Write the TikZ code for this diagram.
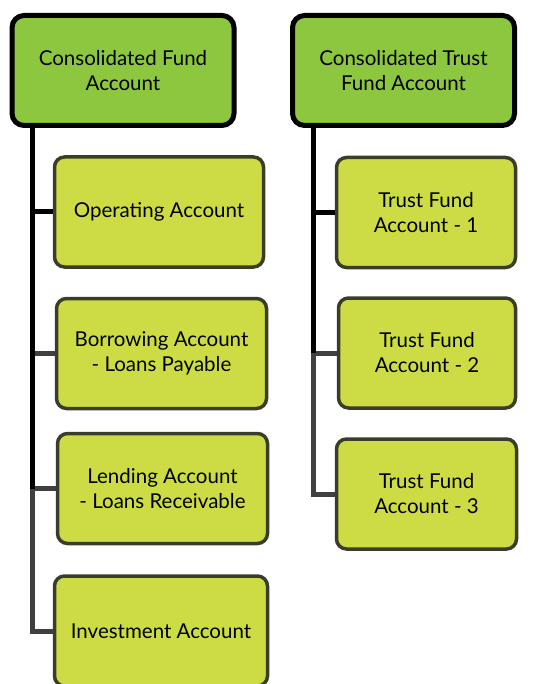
\documentclass[tikz,border=0pt]{standalone}
\usepackage{fontspec}
\setmainfont{Lato}
\usetikzlibrary{positioning,calc}
\definecolor{fundgreen}{RGB}{141,198,63}
\definecolor{acctgreen}{RGB}{205,220,68}
\definecolor{acctedge}{RGB}{58,62,40}
\definecolor{linkgray}{RGB}{64,64,64}

\begin{document}
\begin{tikzpicture}[x=1pt,y=-1pt,
  fund/.style={draw=black,line width=5pt,fill=fundgreen,rounded corners=12pt,
    minimum width=222pt,minimum height=110pt,align=center,inner sep=0pt,
    font=\fontsize{20.5}{25}\selectfont},
  acct/.style={draw=acctedge,line width=3.5pt,fill=acctgreen,rounded corners=10pt,
    minimum height=110pt,align=center,inner sep=0pt,
    font=\fontsize{20.5}{25}\selectfont},
  bline/.style={draw=black,line width=5pt},
  gline/.style={draw=linkgray,line width=5pt}]
\useasboundingbox (0,0) rectangle (537,684);

\node[fund] (cfa) at (123,70.5) {Consolidated Fund\\Account};
\node[fund] (ctfa) at (403.5,70.5) {Consolidated Trust\\Fund Account};

\node[acct,minimum width=209pt] (oper) at (159,212) {Operating Account};
\node[acct,minimum width=210pt] (borr) at (161.5,353.5) {Borrowing Account\\- Loans Payable};
\node[acct,minimum width=210pt] (lend) at (162.5,488.5) {Lending Account\\- Loans Receivable};
\node[acct,minimum width=213pt] (inv) at (161,631) {Investment Account};

\node[acct,minimum width=179pt] (tf1) at (426,212.5) {Trust Fund\\Account - 1};
\node[acct,minimum width=177pt] (tf2) at (427,353) {Trust Fund\\Account - 2};
\node[acct,minimum width=180pt] (tf3) at (426.5,494) {Trust Fund\\Account - 3};

\coordinate (cfa-spine) at ($(cfa.south west)+(22.5,0)$);
\coordinate (ctfa-spine) at ($(ctfa.south west)+(23.5,0)$);

\draw[gline] (cfa-spine) |- (inv.west);
\draw[gline] (cfa-spine) |- (lend.west);
\draw[gline] (cfa-spine) |- (borr.west);
\draw[bline] (cfa-spine) |- (oper.west);
\draw[bline] (cfa-spine) -- (cfa-spine |- lend.west);

\draw[gline] (ctfa-spine) |- (tf3.west);
\draw[gline] (ctfa-spine) |- (tf2.west);
\draw[bline] (ctfa-spine) |- (tf1.west);
\draw[bline] (ctfa-spine) -- (ctfa-spine |- tf2.west);
\end{tikzpicture}
\end{document}
